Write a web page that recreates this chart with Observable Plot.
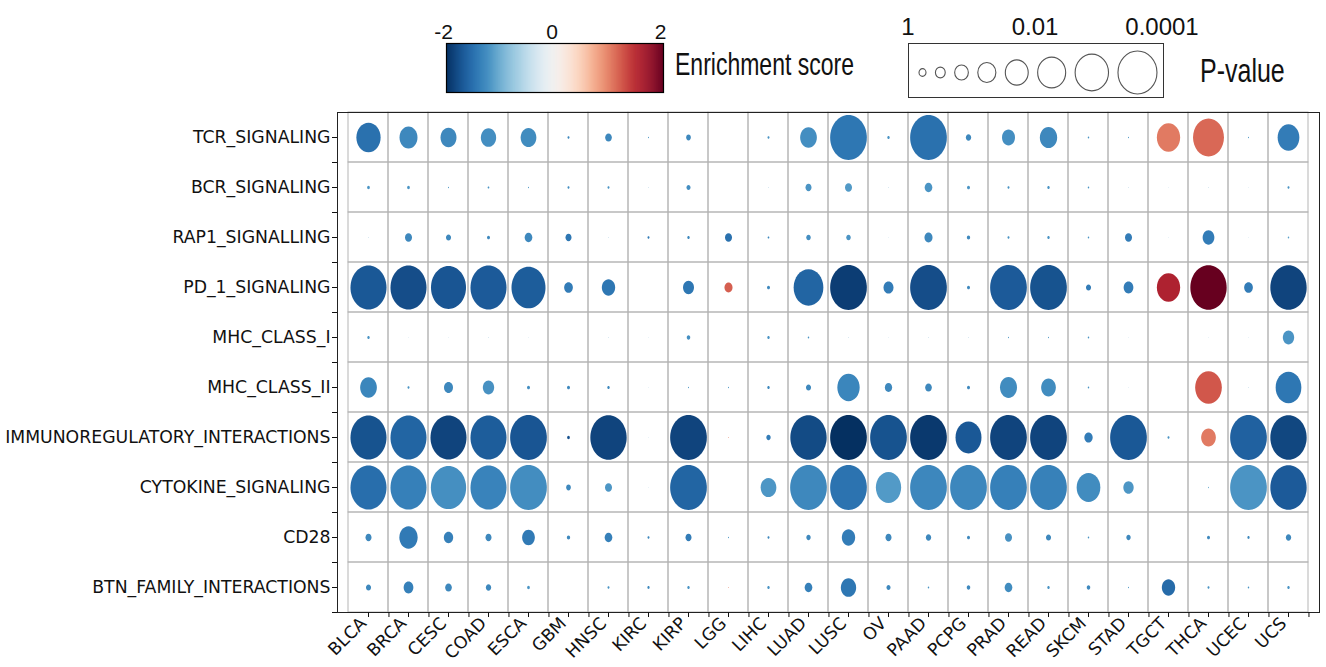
<!DOCTYPE html>
<html>
<head>
<meta charset="utf-8">
<script src="https://cdn.jsdelivr.net/npm/d3@7"></script>
<script src="https://cdn.jsdelivr.net/npm/@observablehq/plot@0.6"></script>
<style>
  html, body { margin: 0; padding: 0; background: white; overflow: hidden; }
  #wrap { position: relative; width: 1326px; height: 667px; background: white; }
  .abs { position: absolute; }
  .stretch { font-family: "Liberation Sans", Arial, sans-serif; color: #111; line-height: 1; white-space: nowrap; transform: scaleY(1.33); transform-origin: 50% 50%; }
</style>
</head>
<body>
<div id="wrap">
  <div id="colorLegend" class="abs" style="left:400px;top:0px"></div>
  <div class="abs stretch" style="left:675px;top:54px;font-size:23px">Enrichment score</div>
  <div id="sizeLabels" class="abs" style="left:860px;top:0px"></div>
  <div id="sizeLegend" class="abs" style="left:908px;top:43px"></div>
  <div class="abs stretch" style="left:1200px;top:58px;font-size:25px">P-value</div>
  <div id="chart" class="abs" style="left:0px;top:100px"></div>
</div>
<script>
// ---------------- data ----------------
const cancers = ["BLCA","BRCA","CESC","COAD","ESCA","GBM","HNSC","KIRC","KIRP","LGG","LIHC","LUAD",
                 "LUSC","OV","PAAD","PCPG","PRAD","READ","SKCM","STAD","TGCT","THCA","UCEC","UCS"];
const pathways = ["TCR_SIGNALING","BCR_SIGNALING","RAP1_SIGNALLING","PD_1_SIGNALING","MHC_CLASS_I",
                  "MHC_CLASS_II","IMMUNOREGULATORY_INTERACTIONS","CYTOKINE_SIGNALING","CD28","BTN_FAMILY_INTERACTIONS"];

// enrichment score, one row per pathway, columns in the order of `cancers`
const enrichment = [
  /* TCR   */ [-1.5,-1.3,-1.3,-1.25,-1.27,-1.3,-1.3,-1.2,-1.3,0,-1.2,-1.25,-1.45,-1.2,-1.5,-1.3,-1.25,-1.3,-1.2,-1.2,1.05,1.15,-1.2,-1.4],
  /* BCR   */ [-1.2,-1.2,-1.2,-1.2,-1.2,-1.25,-1.2,-1.1,-1.25,0,-1.1,-1.2,-1.15,-1.1,-1.2,-1.2,-1.2,-1.2,-1.2,-1.1,-1.1,-1.1,-1.1,-1.2],
  /* RAP1  */ [-1.1,-1.3,-1.3,-1.3,-1.3,-1.45,-1.1,-1.4,-1.3,-1.5,-1.3,-1.25,-1.2,-1.1,-1.3,-1.3,-1.2,-1.2,-1.2,-1.4,-1.1,-1.4,-1.1,-1.1],
  /* PD_1  */ [-1.7,-1.78,-1.72,-1.68,-1.66,-1.4,-1.45,0,-1.45,1.2,-1.3,-1.6,-1.9,-1.4,-1.78,-1.3,-1.68,-1.74,-1.4,-1.4,1.58,2.0,-1.4,-1.85],
  /* MHC_I */ [-1.2,-1.1,-1.1,-1.1,-1.1,0,-1.1,-1.1,-1.25,0,-1.2,-1.2,-1.1,-1.1,-1.1,-1.1,-1.2,-1.2,-1.2,-1.1,0,-1.1,-1.1,-1.2],
  /* MHC_II*/ [-1.32,-1.2,-1.3,-1.22,-1.25,-1.3,-1.3,-1.1,-1.2,-1.2,-1.3,-1.3,-1.32,-1.3,-1.3,-1.3,-1.27,-1.27,-1.2,-1.1,0,1.25,-1.1,-1.45],
  /* IMMUNO*/ [-1.74,-1.6,-1.85,-1.66,-1.72,-1.75,-1.85,-1.1,-1.85,1.0,-1.4,-1.8,-2.0,-1.74,-1.93,-1.7,-1.85,-1.85,-1.4,-1.7,-1.2,1.05,-1.63,-1.83],
  /* CYTO  */ [-1.52,-1.37,-1.24,-1.34,-1.26,-1.3,-1.18,-1.1,-1.6,0,-1.18,-1.3,-1.48,-1.15,-1.31,-1.31,-1.37,-1.36,-1.27,-1.18,0,-1.0,-1.2,-1.68],
  /* CD28  */ [-1.3,-1.42,-1.37,-1.3,-1.42,-1.3,-1.37,-1.3,-1.4,-1.2,-1.3,-1.3,-1.4,-1.3,-1.3,-1.3,-1.22,-1.3,-1.2,-1.3,0,-1.3,-1.3,-1.3],
  /* BTN   */ [-1.3,-1.37,-1.3,-1.3,-1.2,0,-1.2,-1.3,-1.2,1.0,-1.2,-1.37,-1.45,-1.3,-1.2,-1.3,-1.27,-1.2,-1.3,-1.2,-1.55,-1.2,-1.2,-1.2]
];

// p-value, one row per pathway, columns in the order of `cancers`
const pvalue = [
  /* TCR   */ [0.019,0.113,0.179,0.207,0.190,0.973,0.739,0.993,0.862,1,0.973,0.153,0.000116,0.959,0.000116,0.828,0.321,0.133,0.985,0.993,0.026,0.0016,0.993,0.042],
  /* BCR   */ [0.952,0.952,0.993,0.981,0.993,0.973,0.973,0.998,0.898,1,0.998,0.785,0.719,0.998,0.671,0.941,0.973,0.959,0.985,0.998,0.9994,0.998,0.9994,0.973],
  /* RAP1  */ [0.998,0.719,0.845,0.941,0.671,0.785,0.998,0.973,0.959,0.719,0.981,0.873,0.873,0.9994,0.650,0.929,0.973,0.959,0.985,0.719,0.9994,0.398,0.9994,0.985],
  /* PD_1  */ [0.00016,0.00016,0.00026,0.00016,0.00042,0.601,0.304,1,0.443,0.650,0.941,0.0026,0.000116,0.511,0.000116,0.941,0.000116,0.000116,0.845,0.531,0.026,0.00014,0.601,0.00014],
  /* MHC_I */ [0.959,0.9994,0.9994,0.998,0.9994,1,0.998,0.9994,0.921,1,0.959,0.985,0.998,0.9994,0.998,0.998,0.993,0.993,0.985,0.9994,1,0.9994,0.9994,0.424],
  /* MHC_II*/ [0.153,0.973,0.580,0.424,0.941,0.941,0.959,0.9994,0.993,0.993,0.959,0.845,0.035,0.699,0.739,0.941,0.143,0.234,0.985,0.9994,1,0.0083,0.998,0.0117],
  /* IMMUNO*/ [0.00016,0.00016,0.00016,0.00016,0.000116,0.952,0.00014,0.9994,0.000116,0.997,0.883,0.00014,0.000116,0.000116,0.000116,0.0106,0.000116,0.000116,0.629,0.000116,0.973,0.234,0.000116,0.00014],
  /* CYTO  */ [0.00016,0.00016,0.00023,0.00016,0.000116,0.862,0.719,0.9994,0.000116,1,0.190,0.000116,0.000116,0.0135,0.000116,0.000116,0.000116,0.000116,0.023,0.490,1,0.993,0.000116,0.00014],
  /* CD28  */ [0.785,0.105,0.559,0.785,0.338,0.929,0.671,0.973,0.785,0.993,0.973,0.883,0.304,0.785,0.828,0.941,0.719,0.845,0.985,0.883,1,0.941,0.965,0.828],
  /* BTN   */ [0.845,0.531,0.739,0.828,0.952,1,0.973,0.965,0.959,0.997,0.959,0.671,0.207,0.898,0.985,0.921,0.671,0.959,0.921,0.993,0.304,0.973,0.985,0.959]
];

// legends
const colorTicks = [-2, 0, 2];
const legendP = [1, 0.268, 0.072, 0.0193, 0.00518, 0.00139, 0.000373, 0.0001];
const legendTicks = [1, 0.01, 0.0001];
const legendTickLabels = ["1", "0.01", "0.0001"];

// ---------------- helpers ----------------
function ellipseSymbol(aspect) {
  const k = 0.5522847498;
  return {
    draw(context, size) {
      const rx = Math.sqrt(size / Math.PI), ry = rx * aspect;
      context.moveTo(rx, 0);
      context.bezierCurveTo(rx, k * ry, k * rx, ry, 0, ry);
      context.bezierCurveTo(-k * rx, ry, -rx, k * ry, -rx, 0);
      context.bezierCurveTo(-rx, -k * ry, -k * rx, -ry, 0, -ry);
      context.bezierCurveTo(k * rx, -ry, rx, -k * ry, rx, 0);
      context.closePath();
    }
  };
}
const colorOpts = {type: "linear", domain: [-2, 2], scheme: "rdbu", reverse: true, clamp: true};
const legendFont = '"Liberation Sans", Arial, sans-serif';

// ---------------- main chart ----------------
const cells = pathways.flatMap((pw, i) => cancers.map((c, j) => ({
  pathway: pw, cancer: c, score: enrichment[i][j], p: pvalue[i][j]
})));

const W = 1326, H = 567, ML = 337, MR = 7, MT = 12, MB = 55;
const halfBandX = (W - ML - MR) / cancers.length / 2;
const halfBandY = (H - MT - MB) / pathways.length / 2;

const chart = Plot.plot({
  width: W,
  height: H,
  marginLeft: ML,
  marginRight: MR,
  marginTop: MT,
  marginBottom: MB,
  style: {fontFamily: '"DejaVu Sans", sans-serif', fontSize: "17.3px", color: "#111", background: "white"},
  x: {type: "band", domain: cancers, padding: 0, label: null, axis: null},
  y: {type: "band", domain: pathways, padding: 0, label: null, axis: null},
  color: colorOpts,
  r: {type: "sqrt", domain: [0, 4], range: [0, 18.5], clamp: true},
  marks: [
    Plot.cell(cells, {x: "cancer", y: "pathway", fill: "none", stroke: "#b5b5b5", strokeWidth: 1, inset: 0}),
    Plot.dot(cells, {x: "cancer", y: "pathway", r: d => -Math.log10(d.p), fill: "score", symbol: ellipseSymbol(1.225)}),
    Plot.frame({stroke: "#222", strokeWidth: 1}),
    // x axis: centre ticks, boundary ticks, rotated labels
    Plot.axisX({tickSize: 5, tickFormat: () => "", label: null}),
    Plot.axisX({tickSize: 5, tickFormat: () => "", label: null, dx: halfBandX}),
    Plot.axisX({tickSize: 0, tickPadding: 8, tickRotate: -45, label: null, dx: -5}),
    // y axis: centre ticks + labels, boundary ticks
    Plot.axisY({tickSize: 5, tickPadding: 2, label: null}),
    Plot.axisY({tickSize: 5, tickFormat: () => "", label: null, dy: halfBandY})
  ]
});
document.getElementById("chart").appendChild(chart);

// ---------------- colour legend ----------------
const rampStep = 4 / 220;
const rampVals = d3.range(-2, 2, rampStep);
const colorLegend = Plot.plot({
  width: 290, height: 100,
  marginLeft: 46, marginRight: 27, marginTop: 43, marginBottom: 8,
  style: {fontFamily: legendFont, fontSize: "21px", color: "#111", background: "transparent"},
  x: {domain: [-2, 2], axis: null},
  color: colorOpts,
  marks: [
    Plot.rect(rampVals, {x1: d => d, x2: d => Math.min(2, d + rampStep * 1.6), fill: d => d + rampStep / 2}),
    Plot.frame({stroke: "black", strokeWidth: 1.2}),
    Plot.text(colorTicks, {x: d => d, text: d => String(d), frameAnchor: "top", dy: -19, dx: -3, fill: "#111"})
  ]
});
document.getElementById("colorLegend").appendChild(colorLegend);

// ---------------- p-value legend ----------------
const legROpts = {type: "pow", exponent: 1.25, domain: [0, 4], range: [3.5, 19.5]};
const legR = Plot.scale({r: legROpts});
const legRadii = legendP.map(p => legR.apply(-Math.log10(p)));
const legGap = 9.4;
const legCx = [];
let acc = 0;
legRadii.forEach((r, i) => { if (i > 0) acc += legRadii[i - 1] + legGap + r; legCx.push(acc); });

const sizeLegend = Plot.plot({
  width: 254, height: 53,
  marginLeft: 9.5, marginRight: 6.5, marginTop: 3, marginBottom: 0,
  style: {background: "white", border: "1px solid #333"},
  x: {domain: [-legRadii[0], acc + legRadii[legRadii.length - 1]], axis: null},
  r: legROpts,
  marks: [
    Plot.dot(legendP, {x: (d, i) => legCx[i], r: d => -Math.log10(d), fill: "none", stroke: "#555", strokeWidth: 1.1, symbol: ellipseSymbol(1.1)})
  ]
});
document.getElementById("sizeLegend").appendChild(sizeLegend);

const sizeLabels = Plot.plot({
  width: 360, height: 44,
  marginLeft: 47.5, marginRight: 58.5, marginTop: 10, marginBottom: 0,
  style: {fontFamily: legendFont, fontSize: "24px", color: "#111", background: "transparent"},
  x: {type: "log", domain: [1, 0.0001], axis: null},
  marks: [
    Plot.text(legendTicks, {x: d => d, text: (d, i) => legendTickLabels[i], fill: "#111"})
  ]
});
document.getElementById("sizeLabels").appendChild(sizeLabels);
</script>
</body>
</html>
